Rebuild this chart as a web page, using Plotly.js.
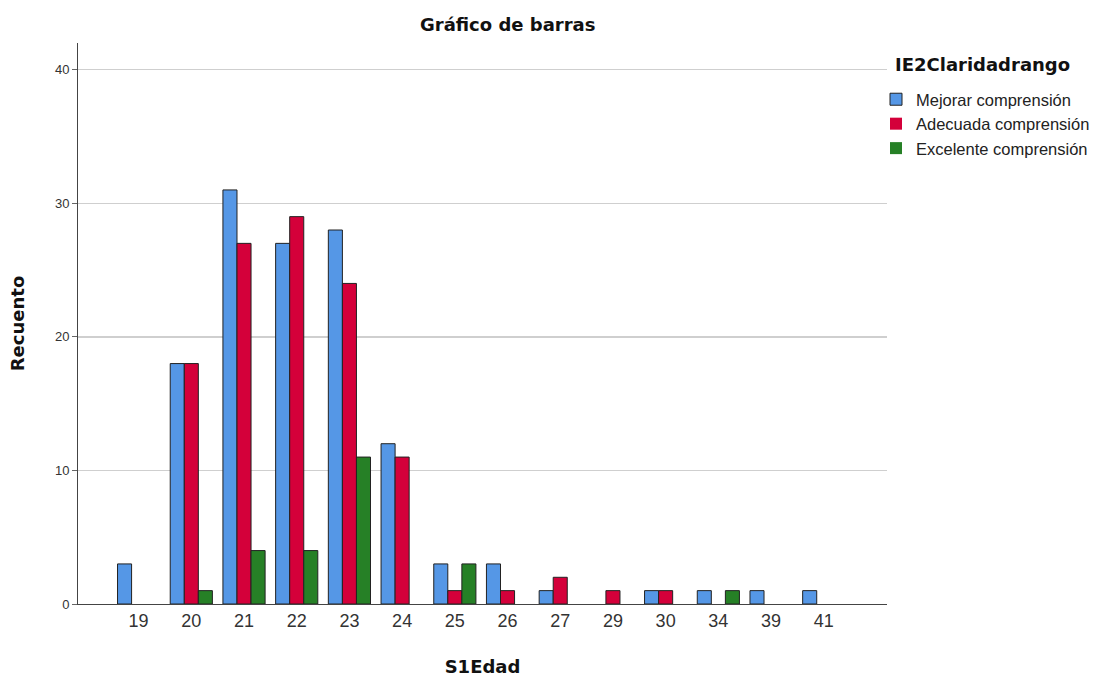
<!DOCTYPE html>
<html><head><meta charset="utf-8">
<script src="https://cdn.plot.ly/plotly-3.0.1.min.js"></script>
<style>body{margin:0;background:#fff}#c{width:1107px;height:682px}</style>
</head><body><div id="c"></div>
<script>
const ages = ["19","20","21","22","23","24","25","26","27","29","30","34","39","41"];
const mejorar   = [3,18,31,27,28,12,3,3,1,0,1,1,1,1];
const adecuada  = [0,18,27,29,24,11,1,1,2,1,1,0,0,0];
const excelente = [0,1,4,4,11,0,3,0,0,0,0,1,0,0];
const seriesNames = ["Mejorar comprensión","Adecuada comprensión","Excelente comprensión"];
const colors = ["#5597e6","#d4003a","#268026"];
const font = "Liberation Sans, Arial, sans-serif";
const bfont = "DejaVu Sans, Liberation Sans, sans-serif";

const vals = [mejorar, adecuada, excelente];
const data = vals.map((v,i)=>({
  type:"bar", x:ages, y:v, name:seriesNames[i],
  marker:{color:colors[i], line:{color:"#222", width:v.map(d=>d>0?1:0)}},
  hoverinfo:"x+y+name"
}));

const layout = {
  width:1107, height:682,
  margin:{l:78, r:220, t:43, b:78},
  paper_bgcolor:"#fff", plot_bgcolor:"#fff",
  font:{family:font, color:"#222"},
  barmode:"group", bargap:0.2, bargroupgap:0,
  title:{text:"<b>Gráfico de barras</b>", font:{size:18, family:bfont, color:"#111"},
         x:588/1107, xanchor:"center", y:1-25/682, yanchor:"middle", xref:"paper"},
  xaxis:{type:"category", range:[-1.15,14.2], showgrid:false, zeroline:false,
         showline:true, linecolor:"#444", linewidth:1, ticks:"",
         tickfont:{size:18, color:"#333", family:font},
         title:{text:"<b>S1Edad</b>", font:{size:18, color:"#111", family:bfont}, standoff:30}},
  yaxis:{range:[0,42], tickvals:[0,10,20,30,40], showgrid:true, gridcolor:"#cfcfcf", gridwidth:1.5,
         zeroline:false, showline:true, linecolor:"#444", linewidth:1,
         ticks:"outside", ticklen:5, tickcolor:"#666",
         tickfont:{size:13, color:"#333", family:font},
         title:{text:"<b>Recuento</b>", font:{size:18, color:"#111", family:bfont}, standoff:25}},
  legend:{x:(876-78)/809, xanchor:"left", y:(604-82)/561, yanchor:"top",
          font:{size:16.5, color:"#222", family:font}, tracegroupgap:0, itemwidth:30},
  annotations:[{text:"<b>IE2Claridadrango</b>", xref:"paper", yref:"paper",
          x:(893-78)/809, xanchor:"left", y:(604-65)/561, yanchor:"middle", showarrow:false,
          font:{size:18, color:"#111", family:bfont}}],
  showlegend:true
};
Plotly.newPlot("c", data, layout, {displayModeBar:false, staticPlot:true});
</script></body></html>
